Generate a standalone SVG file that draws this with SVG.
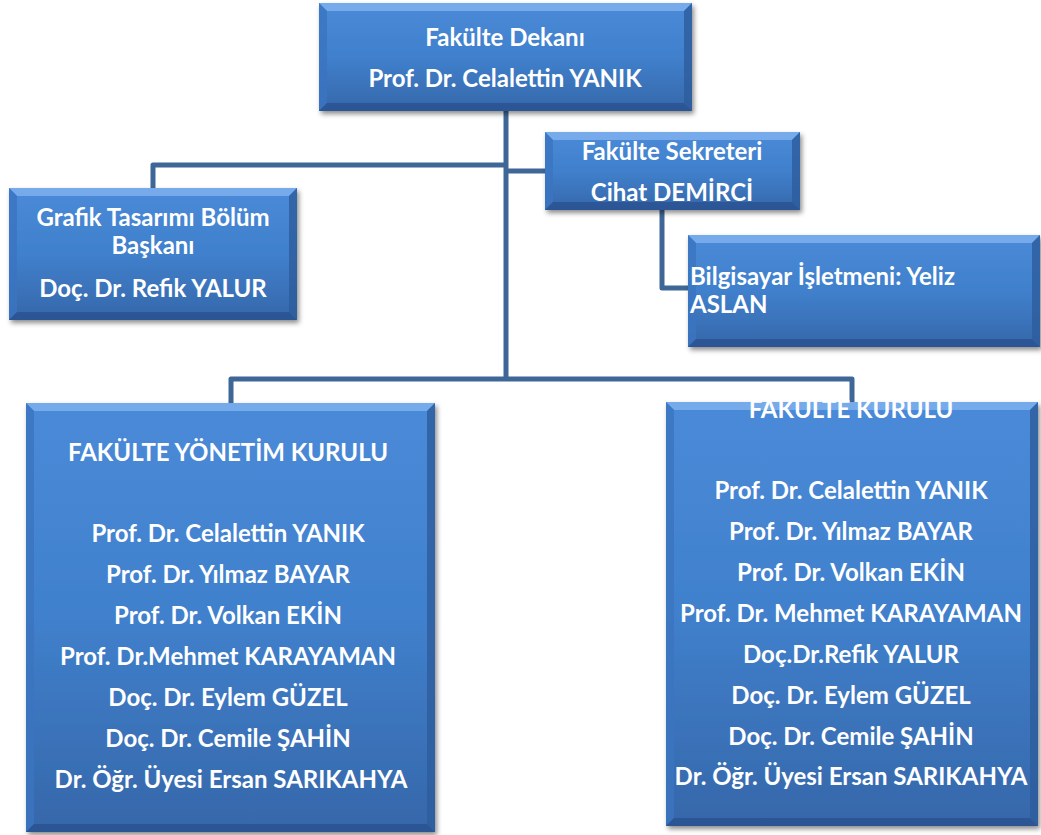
<svg xmlns="http://www.w3.org/2000/svg" width="1041" height="835" viewBox="0 0 1041 835">
<defs>
<linearGradient id="fill" x1="0" y1="0" x2="0" y2="1">
<stop offset="0" stop-color="#4a8ad8"/>
<stop offset="0.5" stop-color="#4080cc"/>
<stop offset="1" stop-color="#3667aa"/>
</linearGradient>
<filter id="sh" x="-5%" y="-5%" width="115%" height="115%">
<feDropShadow dx="2" dy="3" stdDeviation="2.5" flood-color="#000" flood-opacity="0.45"/>
</filter>
<style>
.box{fill:url(#fill);filter:url(#sh)}
.bt{fill:#7eb0ee;opacity:0.85}
.bl{fill:#3b74c0;opacity:0.8}
.br{fill:#2d5c9c;opacity:0.8}
.bb{fill:#2a5290;opacity:0.85}
.t{font-family:Lato,"Open Sans","Liberation Sans",sans-serif;font-weight:bold;font-size:24px;fill:#fff;text-anchor:middle}
.tl{text-anchor:start}
.c{fill:none;stroke:#3e6697;stroke-width:5;stroke-linejoin:round}
</style>
</defs>
<g id="connectors">
<path class="c" d="M506 111 V379"/>
<path class="c" d="M506 165 H153 V190"/>
<path class="c" d="M506 171 H547"/>
<path class="c" d="M662 210 V288 H690"/>
<path class="c" d="M231 404 V379 H852 V404"/>
</g>
<g id="dekan">
<rect class="box" x="319" y="3" width="373" height="108"/>
<polygon class="bt" points="319,3 692,3 684,11 327,11"/>
<polygon class="bl" points="319,3 327,11 327,103 319,111"/>
<polygon class="br" points="692,3 692,111 684,103 684,11"/>
<polygon class="bb" points="319,111 692,111 684,103 327,103"/>
<text class="t" x="505" y="46">Fakülte Dekanı</text>
<text class="t" x="505" y="87">Prof. Dr. Celalettin YANIK</text>
</g>
<g id="sekreter">
<rect class="box" x="545" y="132" width="255" height="78"/>
<polygon class="bt" points="545,132 800,132 792,140 553,140"/>
<polygon class="bl" points="545,132 553,140 553,202 545,210"/>
<polygon class="br" points="800,132 800,210 792,202 792,140"/>
<polygon class="bb" points="545,210 800,210 792,202 553,202"/>
<text class="t" x="672" y="160">Fakülte Sekreteri</text>
<text class="t" x="672" y="201">Cihat DEMİRCİ</text>
</g>
<g id="grafik">
<rect class="box" x="9" y="188" width="288" height="132"/>
<polygon class="bt" points="9,188 297,188 289,196 17,196"/>
<polygon class="bl" points="9,188 17,196 17,312 9,320"/>
<polygon class="br" points="297,188 297,320 289,312 289,196"/>
<polygon class="bb" points="9,320 297,320 289,312 17,312"/>
<text class="t" x="153" y="226">Grafik Tasarımı Bölüm</text>
<text class="t" x="153" y="254">Başkanı</text>
<text class="t" x="153" y="297">Doç. Dr. Refik YALUR</text>
</g>
<g id="bilgisayar">
<rect class="box" x="688" y="235" width="352" height="112"/>
<polygon class="bt" points="688,235 1040,235 1032,243 696,243"/>
<polygon class="bl" points="688,235 696,243 696,339 688,347"/>
<polygon class="br" points="1040,235 1040,347 1032,339 1032,243"/>
<polygon class="bb" points="688,347 1040,347 1032,339 696,339"/>
<text class="t tl" x="690" y="285">Bilgisayar İşletmeni: Yeliz</text>
<text class="t tl" x="690" y="313">ASLAN</text>
</g>
<g id="yonetim">
<rect class="box" x="26" y="403" width="409" height="429"/>
<polygon class="bt" points="26,403 435,403 427,411 34,411"/>
<polygon class="bl" points="26,403 34,411 34,824 26,832"/>
<polygon class="br" points="435,403 435,832 427,824 427,411"/>
<polygon class="bb" points="26,832 435,832 427,824 34,824"/>
<text class="t" x="228" y="461">FAKÜLTE YÖNETİM KURULU</text>
<text class="t" x="228" y="542">Prof. Dr. Celalettin YANIK</text>
<text class="t" x="228" y="583">Prof. Dr. Yılmaz BAYAR</text>
<text class="t" x="228" y="624">Prof. Dr. Volkan EKİN</text>
<text class="t" x="228" y="665">Prof. Dr.Mehmet KARAYAMAN</text>
<text class="t" x="228" y="706">Doç. Dr. Eylem GÜZEL</text>
<text class="t" x="228" y="747">Doç. Dr. Cemile ŞAHİN</text>
<text class="t" x="231" y="788">Dr. Öğr. Üyesi Ersan SARIKAHYA</text>
</g>
<g id="kurul">
<rect class="box" x="666" y="402" width="372" height="424"/>
<polygon class="bt" points="666,402 1038,402 1030,410 674,410"/>
<polygon class="bl" points="666,402 674,410 674,818 666,826"/>
<polygon class="br" points="1038,402 1038,826 1030,818 1030,410"/>
<polygon class="bb" points="666,826 1038,826 1030,818 674,818"/>
<text class="t" x="851" y="418">FAKÜLTE KURULU</text>
<text class="t" x="851" y="499">Prof. Dr. Celalettin YANIK</text>
<text class="t" x="851" y="540">Prof. Dr. Yılmaz BAYAR</text>
<text class="t" x="851" y="581">Prof. Dr. Volkan EKİN</text>
<text class="t" x="851" y="622">Prof. Dr. Mehmet KARAYAMAN</text>
<text class="t" x="851" y="663">Doç.Dr.Refik YALUR</text>
<text class="t" x="851" y="704">Doç. Dr. Eylem GÜZEL</text>
<text class="t" x="851" y="745">Doç. Dr. Cemile ŞAHİN</text>
<text class="t" x="851" y="785">Dr. Öğr. Üyesi Ersan SARIKAHYA</text>
</g>
</svg>
